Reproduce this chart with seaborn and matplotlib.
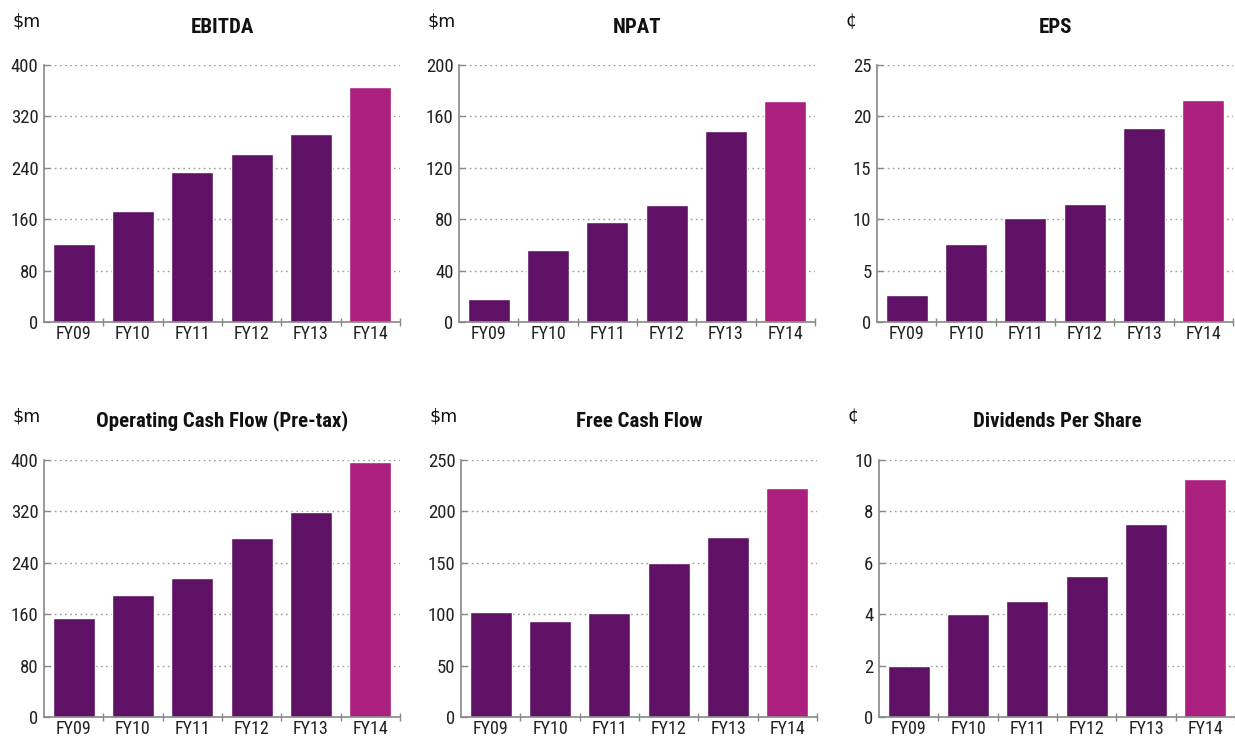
import matplotlib
matplotlib.use('Agg')
import matplotlib.pyplot as plt
import seaborn as sns
import numpy as np
from matplotlib.ticker import FixedLocator

years = ['FY09', 'FY10', 'FY11', 'FY12', 'FY13', 'FY14']

ebitda = [121, 172, 234, 261, 293, 365]
npat = [18, 56, 78, 91, 149, 172]
eps = [2.6, 7.6, 10.1, 11.5, 18.9, 21.6]
ocf = [154, 190, 216, 278, 319, 397]
fcf = [102, 93, 101, 150, 175, 223]
dps = [2.0, 4.0, 4.5, 5.5, 7.5, 9.25]

titles = ['EBITDA', 'NPAT', 'EPS', 'Operating Cash Flow (Pre-tax)', 'Free Cash Flow', 'Dividends Per Share']
units = ['$m', '$m', '¢', '$m', '$m', '¢']
yticks = [
    [0, 80, 160, 240, 320, 400],
    [0, 40, 80, 120, 160, 200],
    [0, 5, 10, 15, 20, 25],
    [0, 80, 160, 240, 320, 400],
    [0, 50, 100, 150, 200, 250],
    [0, 2, 4, 6, 8, 10],
]
series = [ebitda, npat, eps, ocf, fcf, dps]

dark = '#5f1166'
bright = '#ab1f7f'
palette = [dark] * 5 + [bright]

sns.set_theme(style='white')
narrow = ['Roboto Condensed', 'Liberation Sans Narrow', 'Liberation Sans', 'DejaVu Sans']
plt.rcParams['font.family'] = narrow

fig = plt.figure(figsize=(12.35, 7.36), dpi=100)

W, H = 1235, 736
lefts = [44, 459, 877, 44, 461, 879]
bottoms = [322, 322, 322, 717, 717, 717]
title_pads = [23, 23, 23, 24, 24, 24]
ax_w, ax_h = 356, 257

for i in range(6):
    ax = fig.add_axes([lefts[i] / W, 1 - bottoms[i] / H, ax_w / W, ax_h / H])
    sns.barplot(x=years, y=series[i], hue=years, palette=palette, legend=False,
                width=0.71, saturation=1, ax=ax)
    ax.set_xlim(-0.5, 5.5)
    ax.set_ylim(0, yticks[i][-1])
    ax.set_yticks(yticks[i])
    ax.set_yticklabels([str(t) for t in yticks[i]], fontsize=13.5, color='#222222')
    ax.set_xticks(range(6))
    ax.set_xticklabels(years, fontsize=13, color='#222222')
    ax.xaxis.set_minor_locator(FixedLocator(np.arange(0.5, 6, 1.0)))
    ax.tick_params(axis='x', which='major', length=0, pad=2)
    ax.tick_params(axis='x', which='minor', length=6, direction='inout',
                   color='#888888', width=1, bottom=True)
    ax.tick_params(axis='y', which='major', length=4, direction='in',
                   color='#888888', width=1, pad=4, left=True)
    ax.set_axisbelow(True)
    ax.yaxis.grid(True, linestyle=(0, (1.2, 2.5)), color='#999999', linewidth=1)
    ax.xaxis.grid(False)
    for s in ['top', 'right']:
        ax.spines[s].set_visible(False)
    for s in ['left', 'bottom']:
        ax.spines[s].set_color('#888888')
        ax.spines[s].set_linewidth(1.2)
    ax.set_xlabel('')
    ax.set_ylabel('')
    ax.set_title(titles[i], fontsize=15, fontweight='bold', pad=title_pads[i], color='#111111')
    ax.annotate(units[i], xy=(0, 1), xycoords='axes fraction', xytext=(-23, 25),
                textcoords='offset points', fontsize=12.5, family=['DejaVu Sans'],
                color='#111111', ha='left', va='bottom')

fig.savefig('out.png', dpi=100, facecolor='white')
